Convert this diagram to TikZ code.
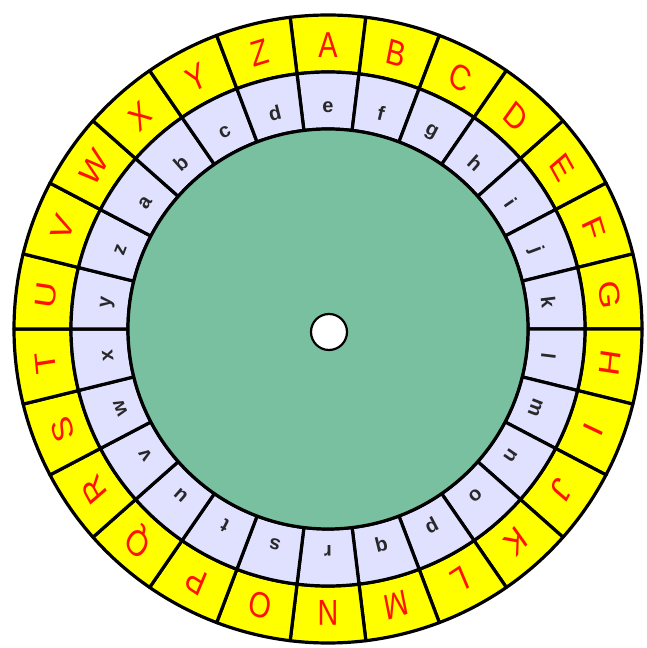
\documentclass[tikz,border=0pt]{standalone}
\usepackage{fontspec}
\setmainfont{Liberation Sans}
\definecolor{wheelyellow}{RGB}{255,255,0}
\definecolor{wheellav}{RGB}{224,224,255}
\definecolor{wheelgreen}{RGB}{120,192,160}
\definecolor{letterred}{RGB}{255,16,0}
\definecolor{lettergray}{RGB}{40,40,40}
\tikzset{
  cellbox/.style={draw=black, line width=3.2pt, line join=round},
  outerletter/.style={text=letterred, inner sep=0pt, xscale=0.8, font=\fontsize{36}{36}\selectfont},
  innerletter/.style={text=lettergray, inner sep=0pt, font=\bfseries\fontsize{20}{20}\selectfont},
}
\begin{document}
\begin{tikzpicture}[x=1pt,y=1pt]
\useasboundingbox (0,0) rectangle (647,648);
\begin{scope}[shift={(328,319)}]
  % ring cells
  \foreach \i in {0,...,25} {
    \pgfmathsetmacro\a{96.923-\i*13.846}
    \pgfmathsetmacro\b{\a-13.846}
    \filldraw[cellbox, fill=wheelyellow] (\a:314) arc[start angle=\a, end angle=\b, radius=314] -- (\b:257) arc[start angle=\b, end angle=\a, radius=257] -- cycle;
    \filldraw[cellbox, fill=wheellav] (\a:257) arc[start angle=\a, end angle=\b, radius=257] -- (\b:200) arc[start angle=\b, end angle=\a, radius=200] -- cycle;
  }
  % green centre
  \filldraw[cellbox, fill=wheelgreen] (0,0) circle[radius=200];
  % hole
  \node[circle, draw=black, line width=2.2pt, fill=white, minimum size=36pt, inner sep=0pt] (hole) at (1,-3) {};
  % outer letters
  \foreach \l [count=\i from 0] in {A,B,C,D,E,F,G,H,I,J,K,L,M,N,O,P,Q,R,S,T,U,V,W,X,Y,Z} {
    \pgfmathsetmacro\a{90-\i*13.846}
    \node[outerletter, rotate=\a-90] (O\i) at (\a:284) {\l};
  }
  % inner letters
  \foreach \l [count=\i from 0] in {e,f,g,h,i,j,k,l,m,n,o,p,q,r,s,t,u,v,w,x,y,z,a,b,c,d} {
    \pgfmathsetmacro\a{90-\i*13.846}
    \node[innerletter, rotate=\a-90] (I\i) at (\a:222) {\l};
  }
\end{scope}
\end{tikzpicture}
\end{document}
